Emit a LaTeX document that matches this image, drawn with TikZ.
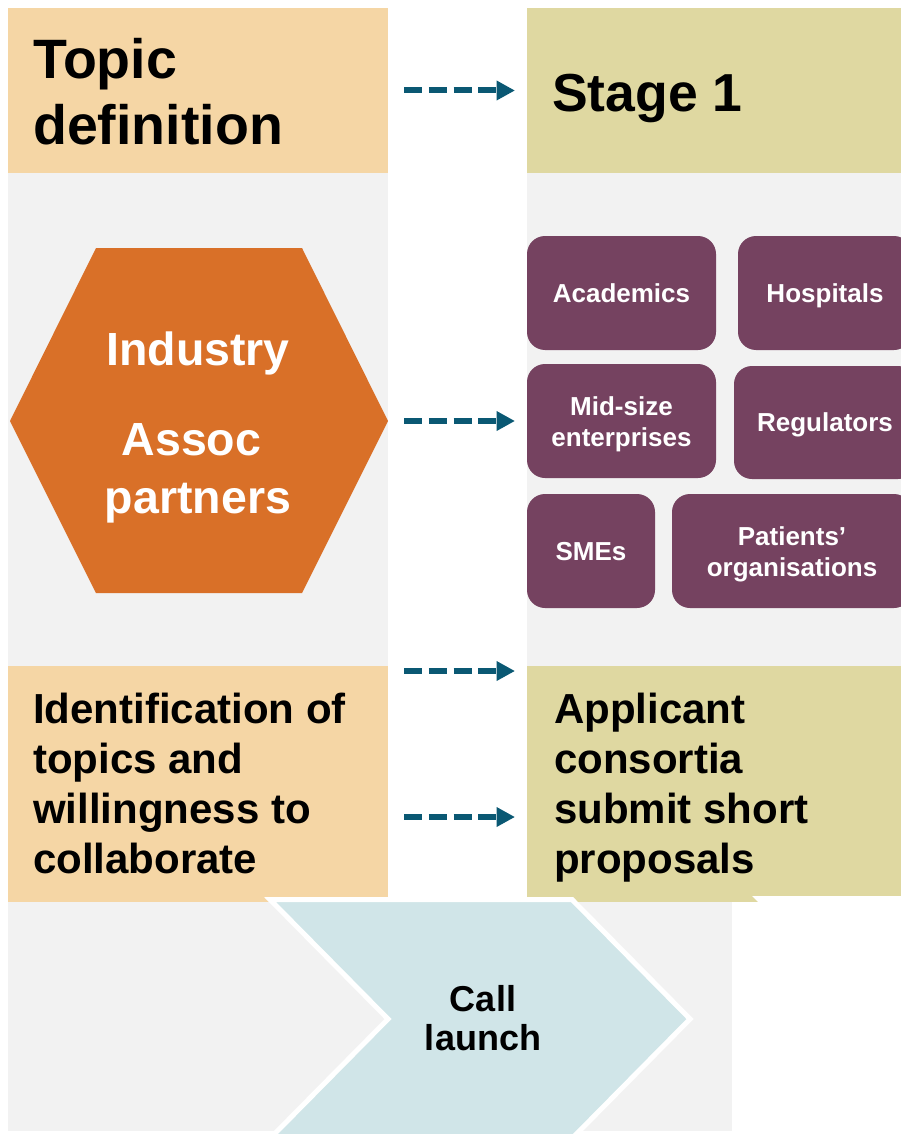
\documentclass[tikz,border=0pt]{standalone}
\usepackage{fontspec}
\setmainfont{Liberation Sans}
\usetikzlibrary{arrows.meta}
\definecolor{beige}{HTML}{F5D6A5}
\definecolor{olive}{HTML}{DFD8A1}
\definecolor{panelgray}{HTML}{F2F2F2}
\definecolor{hexorange}{HTML}{D97028}
\definecolor{purp}{HTML}{754260}
\definecolor{chevblue}{HTML}{D0E5E8}
\definecolor{arrowteal}{HTML}{0A5873}
\newcommand{\mylinesl}[1]{\begin{tabular}[t]{@{}l@{}}#1\end{tabular}}
\newcommand{\mylinesc}[1]{\begin{tabular}[t]{@{}c@{}}#1\end{tabular}}
\tikzset{
  bx/.style={fill=#1, draw=none, inner sep=0pt, outer sep=0pt, anchor=north west},
  pbox/.style={fill=purp, draw=none, rounded corners=18pt, inner sep=0pt, outer sep=0pt,
    anchor=north west, text=white,
    font=\bfseries\fontsize{26}{31.7}\selectfont, minimum height=114pt},
  oneline/.style={text height=18.6pt, text depth=0pt},
  twoline/.style={text height=0pt, text depth=12pt},
  tbig/.style={inner sep=0pt, anchor=base west, font=\bfseries\fontsize{55.5}{66.7}\selectfont},
  tmid/.style={inner sep=0pt, anchor=base west, font=\bfseries\fontsize{42}{50}\selectfont},
  thex/.style={inner sep=0pt, anchor=base, text=white, font=\bfseries\fontsize{46.5}{58}\selectfont},
  tcall/.style={inner sep=0pt, anchor=base, font=\bfseries\fontsize{36}{38.3}\selectfont},
  arr/.style={draw=arrowteal, line width=6pt, dash pattern=on 18pt off 6.83pt,
    -{Triangle[length=18.5pt,width=18.7pt]}}
}
\begin{document}
\begin{tikzpicture}[x=1pt,y=-1pt]
\useasboundingbox (0,0) rectangle (901,1134);
\clip (0,0) rectangle (901,1134);
% gray panels
\node[bx=panelgray, minimum width=380pt, minimum height=1123pt] (grayL) at (8,8) {};
\node[bx=panelgray, minimum width=374pt, minimum height=493pt] (grayR) at (527,173) {};
\node[bx=panelgray, minimum width=724pt, minimum height=229pt] (grayB) at (8,902) {};
% header boxes
\node[bx=beige, minimum width=380pt, minimum height=165pt] (topic) at (8,8) {};
\node[bx=olive, minimum width=374pt, minimum height=165pt] (stage) at (527,8) {};
\node[bx=beige, minimum width=380pt, minimum height=236pt] (ident) at (8,666) {};
\node[bx=olive, minimum width=374pt, minimum height=236pt] (appl) at (527,666) {};
% texts of boxes
\node[tbig] (topictxt) at (33,78.3) {\mylinesl{Topic\\definition}};
\node[tbig, font=\bfseries\fontsize{53.5}{66.7}\selectfont] (stagetxt) at (552,111.7) {Stage 1};
\node[tmid] (identtxt) at (33,723.3) {\mylinesl{Identification of\\topics and\\willingness to\\collaborate}};
\node[tmid] (appltxt) at (554,723.3) {\mylinesl{Applicant\\consortia\\submit short\\proposals}};
% hexagon
\fill[hexorange] (96,248) -- (302,248) -- (388,421) -- (302,593) -- (96,593) -- (10,421) -- cycle;
\coordinate (hexE) at (388,421);
\node[thex] (hextxt) at (198,365) {\mylinesc{Industry\\[32pt]Assoc\hspace*{13pt}\\partners}};
% purple boxes
\node[pbox, oneline, minimum width=189pt] (acad) at (527,236) {Academics};
\node[pbox, oneline, minimum width=174pt] (hosp) at (738,236) {Hospitals};
\node[pbox, twoline, minimum width=189pt] (mid) at (527,364) {\mylinesc{Mid-size\\enterprises}};
\node[pbox, oneline, minimum width=182pt, minimum height=113pt] (reg) at (734,366) {Regulators};
\node[pbox, oneline, minimum width=128pt] (smes) at (527,494) {SMEs};
\node[pbox, twoline, minimum width=240pt] (pat) at (672,494) {\mylinesc{Patients’\\organisations}};
% chevrons
\fill[white] (752,896) -- (901,896) -- (901,902) -- (758,902) -- cycle;
\filldraw[fill=chevblue, draw=white, line width=5pt, line join=miter]
  (270,899.5) -- (572,899.5) -- (690,1019) -- (572,1138.5) -- (270,1138.5) -- (388,1019) -- cycle;
\node[tcall] (call) at (483,1011.7) {\mylinesc{Call\\launch}};
% arrows
\draw[arr] ([xshift=16pt]topic.east) -- ([xshift=-12pt]stage.west);
\draw[arr] ([xshift=16pt]hexE) -- ([xshift=-12pt]mid.west);
\draw[arr] ([shift={(16,5)}]ident.north east) -- ([shift={(-12,5)}]appl.north west);
\draw[arr] ([shift={(16,151)}]ident.north east) -- ([shift={(-12,151)}]appl.north west);
\end{tikzpicture}
\end{document}
